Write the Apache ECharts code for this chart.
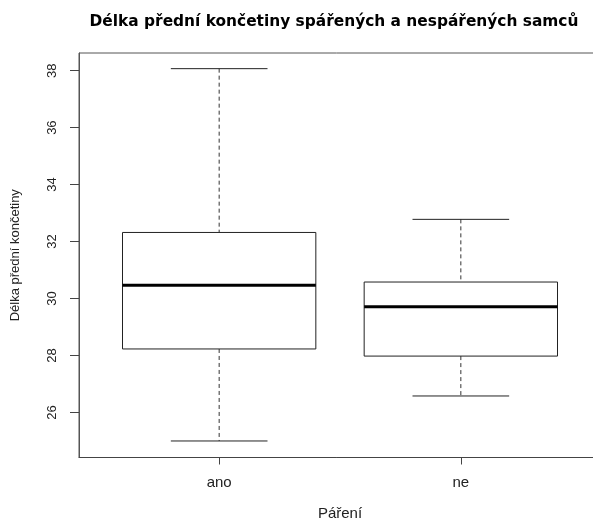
<!DOCTYPE html>
<html>
<head>
<meta charset="utf-8">
<script src="https://cdn.jsdelivr.net/npm/echarts@6/dist/echarts.min.js"></script>
<style>html,body{margin:0;padding:0;background:#fff}#c{width:593px;height:519px}</style>
</head>
<body>
<div id="c"></div>
<script>
// Data
var categories = ['ano', 'ne'];
var whiskerLow = [25.0, 26.58];
var q1 = [28.23, 27.98];
var median = [30.47, 29.71];
var q3 = [32.32, 30.58];
var whiskerHigh = [38.07, 32.78];
var yTicks = [26, 28, 30, 32, 34, 36, 38];

var title = 'Délka přední končetiny spářených a nespářených samců';
var xName = 'Páření';
var yName = 'Délka přední končetiny';

var rows = categories.map(function (c, i) {
  return [i + 1, whiskerLow[i], q1[i], median[i], q3[i], whiskerHigh[i]];
});

var chart = echarts.init(document.getElementById('c'), null, {renderer: 'canvas'});
var font = 'Liberation Sans, Arial, Helvetica, sans-serif';

function renderItem(params, api) {
  var x = api.value(0);
  var lo = api.value(1), a = api.value(2), m = api.value(3), b = api.value(4), hi = api.value(5);
  var pLo = api.coord([x, lo]);
  var pA = api.coord([x, a]);
  var pM = api.coord([x, m]);
  var pB = api.coord([x, b]);
  var pHi = api.coord([x, hi]);
  var boxW = api.size([0.8, 0])[0];
  var capW = api.size([0.4, 0])[0];
  var cx = pM[0];
  var stroke = '#222';
  return {
    type: 'group',
    children: [
      {type: 'line', shape: {x1: cx, y1: pHi[1], x2: cx, y2: pB[1]},
       style: {stroke: '#333', lineWidth: 1, lineDash: [4, 3]}},
      {type: 'line', shape: {x1: cx, y1: pA[1], x2: cx, y2: pLo[1]},
       style: {stroke: '#333', lineWidth: 1, lineDash: [4, 3]}},
      {type: 'line', shape: {x1: cx - capW / 2, y1: pHi[1], x2: cx + capW / 2, y2: pHi[1]},
       style: {stroke: stroke, lineWidth: 1}},
      {type: 'line', shape: {x1: cx - capW / 2, y1: pLo[1], x2: cx + capW / 2, y2: pLo[1]},
       style: {stroke: stroke, lineWidth: 1}},
      {type: 'rect', shape: {x: cx - boxW / 2, y: pB[1], width: boxW, height: pA[1] - pB[1]},
       style: {fill: '#fff', stroke: stroke, lineWidth: 1}},
      {type: 'line', shape: {x1: cx - boxW / 2, y1: pM[1], x2: cx + boxW / 2, y2: pM[1]},
       style: {stroke: '#000', lineWidth: 3}}
    ]
  };
}

chart.setOption({
  animation: false,
  backgroundColor: '#fff',
  title: {
    text: title,
    left: 329,
    textAlign: 'center',
    top: 9,
    textStyle: {fontFamily: 'DejaVu Sans', fontSize: 15.4, fontWeight: 'bold', color: '#000'}
  },
  grid: {
    left: 79, top: 53, width: 522, height: 404.5,
    outerBoundsMode: 'none', containLabel: false,
    show: true, borderColor: '#555', borderWidth: 1, backgroundColor: 'transparent'
  },
  xAxis: {
    type: 'value', min: 0.42, max: 2.58,
    name: xName, nameLocation: 'middle', nameGap: 49,
    nameTextStyle: {fontFamily: font, fontSize: 15, color: '#222'},
    axisLine: {show: true, onZero: false, lineStyle: {color: '#444'}},
    axisTick: {show: true, length: 7, customValues: [1, 2], lineStyle: {color: '#444'}},
    axisLabel: {show: true, customValues: [1, 2], margin: 18,
      fontFamily: font, fontSize: 15, color: '#222',
      formatter: function (v) { return categories[Math.round(v) - 1] || ''; }},
    splitLine: {show: false}
  },
  yAxis: {
    type: 'value', min: 24.42, max: 38.62,
    name: yName, nameLocation: 'middle', nameGap: 57, nameRotate: 90,
    nameTextStyle: {fontFamily: font, fontSize: 13, color: '#222'},
    axisLine: {show: true, onZero: false, lineStyle: {color: '#555'}},
    axisTick: {show: true, length: 9, customValues: yTicks, lineStyle: {color: '#444'}},
    axisLabel: {show: true, customValues: yTicks, rotate: 90, margin: 20,
      fontFamily: font, fontSize: 13, color: '#222'},
    splitLine: {show: false}
  },
  series: [{
    type: 'custom',
    renderItem: renderItem,
    encode: {x: 0, y: [1, 2, 3, 4, 5]},
    data: rows,
    clip: false
  }]
});
</script>
</body>
</html>
